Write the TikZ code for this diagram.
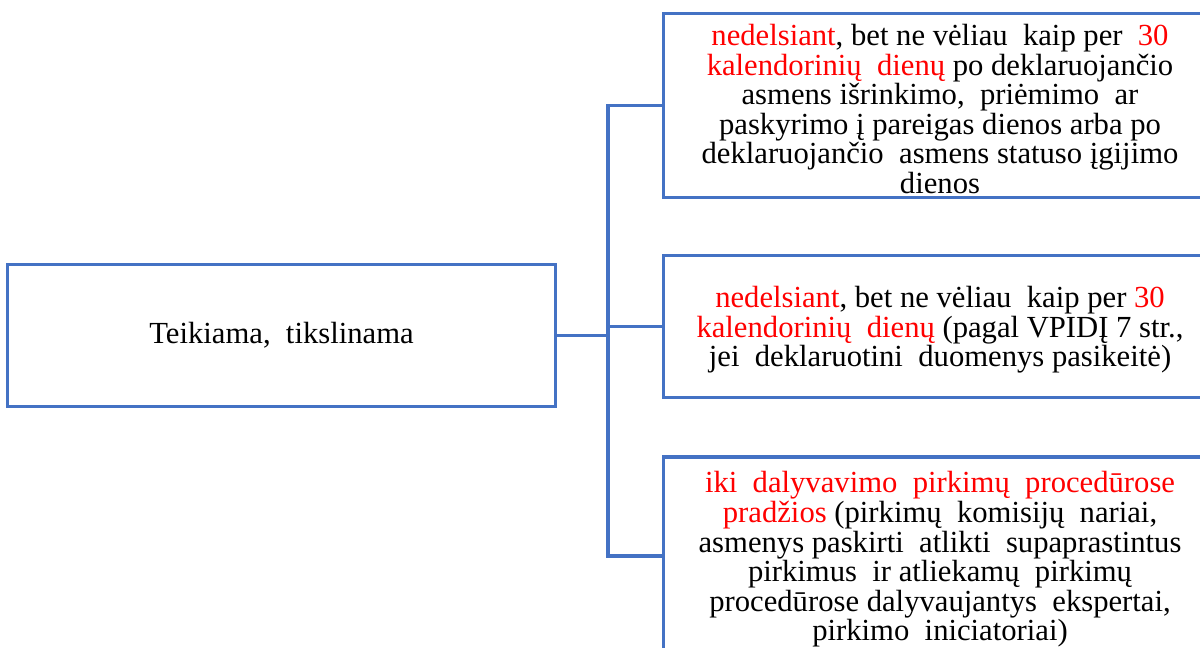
\documentclass[tikz,border=0pt]{standalone}
\usepackage{fontspec}
\setmainfont{Liberation Serif}
\usetikzlibrary{positioning}
\definecolor{boxblue}{HTML}{4472C4}
\newcommand{\hl}[1]{\textcolor{red}{#1}}
\begin{document}
\begin{tikzpicture}[x=0.025cm, y=-0.025cm,
    box/.style = {draw=boxblue, line width=2.2pt, align=center, inner sep=0pt,
                  font=\fontsize{21.8}{21}\selectfont},
    link/.style = {draw=boxblue, line width=2.2pt}]
    \clip (0,0) rectangle (1200,648);
    \fill[white] (0,0) rectangle (1200,648);
    % left box
    \node[box, minimum width=13.68cm, minimum height=3.57cm] (lbox) at (281.5,335.5)
        {Teikiama,\ \ tikslinama};
    % right boxes
    \node[box, minimum width=13.8cm, minimum height=4.58cm] (top) at (940,105.5)
        {\rule{0pt}{20pt}\hl{nedelsiant}, bet ne vėliau\ \ kaip per\ \ \hl{30}\\
         \hl{kalendorinių\ \ dienų} po deklaruojančio\\
         asmens išrinkimo,\ \ priėmimo\ \ ar\\
         paskyrimo į pareigas dienos arba po\\
         deklaruojančio\ \ asmens statuso įgijimo\\
         dienos};
    \node[box, minimum width=13.8cm, minimum height=3.53cm] (mid) at (940,326.5)
        {\rule{0pt}{20pt}\hl{nedelsiant}, bet ne vėliau\ \ kaip per \hl{30}\\
         \hl{kalendorinių\ \ dienų} (pagal VPIDĮ 7 str.,\\
         jei\ \ deklaruotini\ \ duomenys pasikeitė)};
    \node[box, minimum width=13.8cm, minimum height=4.95cm] (bot) at (940,556)
        {\rule{0pt}{20pt}\hl{iki\ \ dalyvavimo\ \ pirkimų\ \ procedūrose}\\
         \hl{pradžios} (pirkimų\ \ komisijų\ \ nariai,\\
         asmenys paskirti\ \ atlikti\ \ supaprastintus\\
         pirkimus\ \ ir atliekamų\ \ pirkimų\\
         procedūrose dalyvaujantys\ \ ekspertai,\\
         pirkimo\ \ iniciatoriai)};
    % connectors
    \coordinate (trunk) at (608,335.5);
    \draw[link] (lbox.east) -- (trunk);
    \draw[link] (top.west) -| (trunk) |- (bot.west);
    \draw[link] (mid.west) -- (mid.west -| trunk);
\end{tikzpicture}
\end{document}
